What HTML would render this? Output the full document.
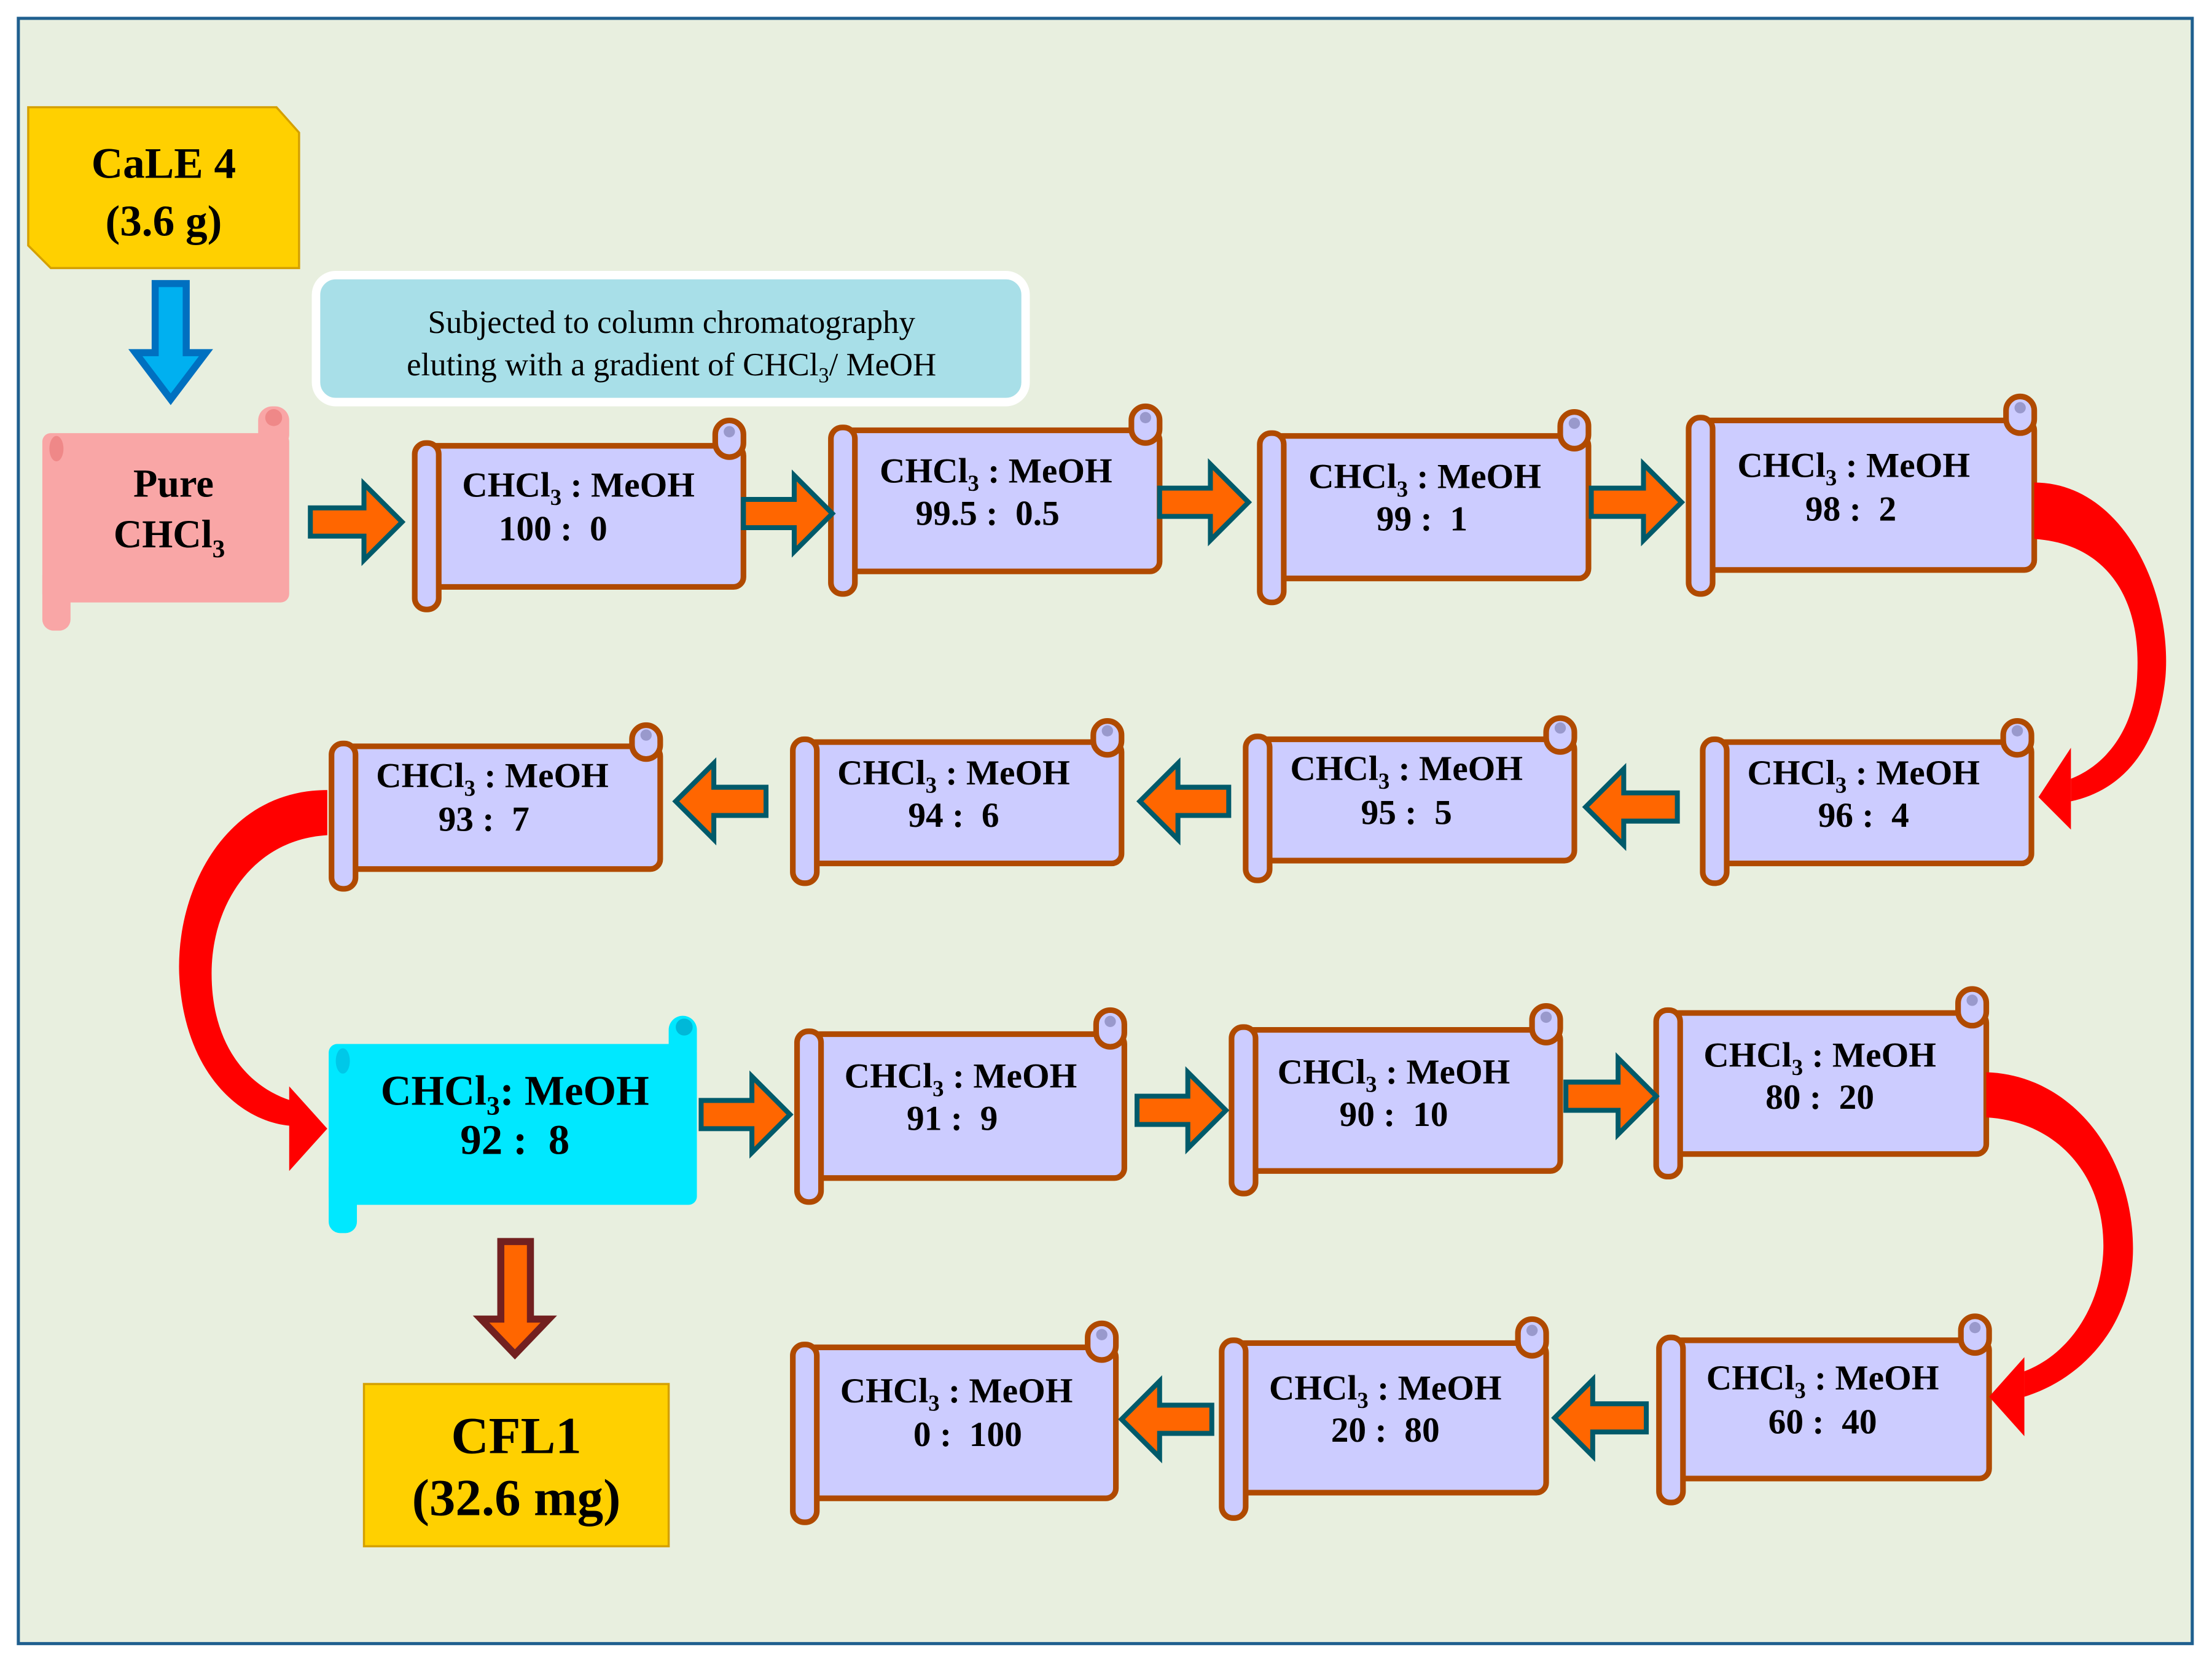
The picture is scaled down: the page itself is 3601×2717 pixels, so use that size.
<!DOCTYPE html>
<html><head><meta charset="utf-8"><style>
html,body{margin:0;padding:0;background:#fff}
svg{display:block}
text{font-family:"Liberation Serif",serif;font-weight:bold;fill:#000;text-anchor:middle;white-space:pre}
.s{fill:#ccccff;stroke:#b04a00;stroke-width:4}
.r{fill:#ccccff;stroke:#b04a00;stroke-width:4}
.oa{fill:#ff6600;stroke:#005a6a;stroke-width:3.5}
</style></head><body>
<svg width="3601" height="2717" viewBox="0 0 1568 1183" preserveAspectRatio="none" xmlns="http://www.w3.org/2000/svg">
<rect x="0" y="0" width="1568" height="1183" fill="#fff"/>
<rect x="13" y="13" width="1541" height="1152" fill="#e8efdf" stroke="#1f5f8f" stroke-width="2.2"/>

<path d="M20,76 H196 L212,94 V190 H36 L20,174 Z" fill="#ffd000" stroke="#d4a000" stroke-width="1.5"/>
<text x="116" y="126" font-size="31">CaLE 4</text>
<text x="116" y="167" font-size="31">(3.6 g)</text>

<path d="M110,201 H132 V250 H146 L121,283 L96,250 H110 Z" fill="#00b0f0" stroke="#0070c0" stroke-width="5"/>

<rect x="224" y="195" width="503" height="90" rx="14" fill="#a8dfe8" stroke="#fff" stroke-width="6"/>
<text x="476" y="236" font-size="23" style="font-weight:normal">Subjected to column chromatography</text>
<text x="476" y="266" font-size="23" style="font-weight:normal">eluting with a gradient of CHCl<tspan font-size="15" dy="5">3</tspan><tspan dy="-5">/ MeOH</tspan></text>

<g fill="#f9a6a6">
<rect x="30" y="307" width="175" height="120" rx="6"/>
<rect x="30" y="400" width="20" height="47" rx="8"/>
<rect x="183" y="288" width="22" height="30" rx="10"/>
<circle cx="194" cy="296" r="6" fill="#ef8888"/>
<ellipse cx="40" cy="318" rx="5" ry="9" fill="#ef8888"/>
</g>
<text x="123" y="352" font-size="28">Pure</text>
<text x="120" y="388" font-size="28">CHCl<tspan font-size="18" dy="7">3</tspan></text>

<g fill="#00e8ff">
<rect x="233" y="740" width="261" height="114" rx="6"/>
<rect x="233" y="820" width="20" height="54" rx="8"/>
<rect x="474" y="720" width="20" height="34" rx="10"/>
<circle cx="485" cy="728" r="6" fill="#00b8d8"/>
<ellipse cx="243" cy="752" rx="5" ry="9" fill="#00c8e8"/>
</g>
<text x="365" y="783" font-size="30">CHCl<tspan font-size="19" dy="7">3</tspan><tspan dy="-7">: MeOH</tspan></text>
<text x="365" y="818" font-size="30">92 :  8</text>

<rect x="258" y="981" width="216" height="115" fill="#ffd000" stroke="#d4a000" stroke-width="1.5"/>
<text x="366" y="1030" font-size="37">CFL1</text>
<text x="366" y="1074" font-size="37">(32.6 mg)</text>

<path d="M355,880 H376 V935 H389 L365,960 L341,935 H355 Z" fill="#ff6600" stroke="#722020" stroke-width="5"/>

<g>
<rect class="s" x="302" y="316" width="225" height="100" rx="7"/>
<rect class="r" x="507" y="298" width="20" height="26" rx="10"/>
<rect class="r" x="294" y="314" width="17" height="118" rx="8"/>
<rect class="s" x="597" y="305" width="225" height="100" rx="7"/>
<rect class="r" x="802" y="288" width="20" height="26" rx="10"/>
<rect class="r" x="589" y="303" width="17" height="118" rx="8"/>
<rect class="s" x="901" y="309" width="225" height="101" rx="7"/>
<rect class="r" x="1106" y="292" width="20" height="26" rx="10"/>
<rect class="r" x="893" y="307" width="17" height="120" rx="8"/>
<rect class="s" x="1205" y="298" width="237" height="106" rx="7"/>
<rect class="r" x="1422" y="281" width="20" height="26" rx="10"/>
<rect class="r" x="1197" y="296" width="17" height="125" rx="8"/>
<rect class="s" x="243" y="529" width="225" height="87" rx="7"/>
<rect class="r" x="448" y="514" width="20" height="24" rx="10"/>
<rect class="r" x="235" y="527" width="17" height="103" rx="8"/>
<rect class="s" x="570" y="526" width="225" height="86" rx="7"/>
<rect class="r" x="775" y="511" width="20" height="24" rx="10"/>
<rect class="r" x="562" y="524" width="17" height="102" rx="8"/>
<rect class="s" x="891" y="524" width="225" height="86" rx="7"/>
<rect class="r" x="1096" y="509" width="20" height="24" rx="10"/>
<rect class="r" x="883" y="522" width="17" height="102" rx="8"/>
<rect class="s" x="1215" y="526" width="225" height="86" rx="7"/>
<rect class="r" x="1420" y="511" width="20" height="24" rx="10"/>
<rect class="r" x="1207" y="524" width="17" height="102" rx="8"/>
<rect class="s" x="573" y="733" width="224" height="102" rx="7"/>
<rect class="r" x="777" y="716" width="20" height="26" rx="10"/>
<rect class="r" x="565" y="731" width="17" height="121" rx="8"/>
<rect class="s" x="881" y="730" width="225" height="100" rx="7"/>
<rect class="r" x="1086" y="713" width="20" height="26" rx="10"/>
<rect class="r" x="873" y="728" width="17" height="118" rx="8"/>
<rect class="s" x="1182" y="718" width="226" height="100" rx="7"/>
<rect class="r" x="1388" y="701" width="20" height="26" rx="10"/>
<rect class="r" x="1174" y="716" width="17" height="118" rx="8"/>
<rect class="s" x="1184" y="950" width="226" height="98" rx="7"/>
<rect class="r" x="1390" y="933" width="20" height="26" rx="10"/>
<rect class="r" x="1176" y="948" width="17" height="117" rx="8"/>
<rect class="s" x="874" y="952" width="222" height="106" rx="7"/>
<rect class="r" x="1076" y="935" width="20" height="26" rx="10"/>
<rect class="r" x="866" y="950" width="17" height="126" rx="8"/>
<rect class="s" x="570" y="955" width="221" height="107" rx="7"/>
<rect class="r" x="771" y="938" width="20" height="26" rx="10"/>
<rect class="r" x="562" y="953" width="17" height="126" rx="8"/>
</g>
<g fill="#9999cc">
<circle cx="517" cy="306" r="4"/><circle cx="812" cy="296" r="4"/><circle cx="1116" cy="300" r="4"/><circle cx="1432" cy="289" r="4"/>
<circle cx="458" cy="521" r="4"/><circle cx="785" cy="518" r="4"/><circle cx="1106" cy="516" r="4"/><circle cx="1430" cy="518" r="4"/>
<circle cx="787" cy="724" r="4"/><circle cx="1096" cy="721" r="4"/><circle cx="1398" cy="709" r="4"/>
<circle cx="1400" cy="941" r="4"/><circle cx="1086" cy="943" r="4"/><circle cx="781" cy="946" r="4"/>
</g>

<g font-size="25">
<text x="410" y="352">CHCl<tspan font-size="16" dy="6">3</tspan><tspan dy="-6"> : MeOH</tspan></text><text x="392" y="383">100 :  0</text>
<text x="706" y="342">CHCl<tspan font-size="16" dy="6">3</tspan><tspan dy="-6"> : MeOH</tspan></text><text x="700" y="372">99.5 :  0.5</text>
<text x="1010" y="346">CHCl<tspan font-size="16" dy="6">3</tspan><tspan dy="-6"> : MeOH</tspan></text><text x="1008" y="376">99 :  1</text>
<text x="1314" y="338">CHCl<tspan font-size="16" dy="6">3</tspan><tspan dy="-6"> : MeOH</tspan></text><text x="1312" y="369">98 :  2</text>
<text x="349" y="558">CHCl<tspan font-size="16" dy="6">3</tspan><tspan dy="-6"> : MeOH</tspan></text><text x="343" y="589">93 :  7</text>
<text x="676" y="556">CHCl<tspan font-size="16" dy="6">3</tspan><tspan dy="-6"> : MeOH</tspan></text><text x="676" y="586">94 :  6</text>
<text x="997" y="553">CHCl<tspan font-size="16" dy="6">3</tspan><tspan dy="-6"> : MeOH</tspan></text><text x="997" y="584">95 :  5</text>
<text x="1321" y="556">CHCl<tspan font-size="16" dy="6">3</tspan><tspan dy="-6"> : MeOH</tspan></text><text x="1321" y="586">96 :  4</text>
<text x="681" y="771">CHCl<tspan font-size="16" dy="6">3</tspan><tspan dy="-6"> : MeOH</tspan></text><text x="675" y="801">91 :  9</text>
<text x="988" y="768">CHCl<tspan font-size="16" dy="6">3</tspan><tspan dy="-6"> : MeOH</tspan></text><text x="988" y="798">90 :  10</text>
<text x="1290" y="756">CHCl<tspan font-size="16" dy="6">3</tspan><tspan dy="-6"> : MeOH</tspan></text><text x="1290" y="786">80 :  20</text>
<text x="1292" y="985">CHCl<tspan font-size="16" dy="6">3</tspan><tspan dy="-6"> : MeOH</tspan></text><text x="1292" y="1016">60 :  40</text>
<text x="982" y="992">CHCl<tspan font-size="16" dy="6">3</tspan><tspan dy="-6"> : MeOH</tspan></text><text x="982" y="1022">20 :  80</text>
<text x="678" y="994">CHCl<tspan font-size="16" dy="6">3</tspan><tspan dy="-6"> : MeOH</tspan></text><text x="686" y="1025">0 :  100</text>
</g>

<path class="oa" d="M220,360 H258 V343 L285,370 L258,397 V380 H220 Z"/>
<path class="oa" d="M527,354 H563 V337 L590,364 L563,391 V374 H527 Z"/>
<path class="oa" d="M822,346 H858 V329 L885,356 L858,383 V366 H822 Z"/>
<path class="oa" d="M1128,346 H1165 V329 L1192,356 L1165,383 V366 H1128 Z"/>
<path class="oa" d="M497,780 H533 V763 L560,790 L533,817 V800 H497 Z"/>
<path class="oa" d="M806,777 H842 V760 L869,787 L842,814 V797 H806 Z"/>
<path class="oa" d="M1110,767 H1147 V750 L1174,777 L1147,804 V787 H1110 Z"/>
<path class="oa" d="M543,558 H506 V541 L479,568 L506,595 V578 H543 Z"/>
<path class="oa" d="M871,558 H835 V541 L808,568 L835,595 V578 H871 Z"/>
<path class="oa" d="M1189,562 H1151 V545 L1124,572 L1151,599 V582 H1189 Z"/>
<path class="oa" d="M859,996 H822 V979 L795,1006 L822,1033 V1016 H859 Z"/>
<path class="oa" d="M1167,995 H1129 V978 L1102,1005 L1129,1032 V1015 H1167 Z"/>

<g fill="#ff0000">
<path d="M1442,342 C1505,342 1540,420 1535,480 C1530,530 1505,560 1468,568 L1468,552 C1498,540 1514,510 1515,478 C1518,420 1490,385 1442,382 Z"/>
<path d="M1445,565 L1468,530 L1468,588 Z"/>
<path d="M232,560 C160,560 125,630 127,690 C130,760 170,795 206,798 L206,780 C175,770 150,740 150,690 C150,640 180,595 232,592 Z"/>
<path d="M232,800 L205,770 L205,830 Z"/>
<path d="M1408,760 C1470,762 1512,820 1512,885 C1512,940 1475,978 1435,990 L1435,972 C1467,960 1490,925 1491,885 C1492,835 1460,795 1408,792 Z"/>
<path d="M1410,990 L1435,962 L1435,1018 Z"/>
</g>
</svg>
</body></html>
